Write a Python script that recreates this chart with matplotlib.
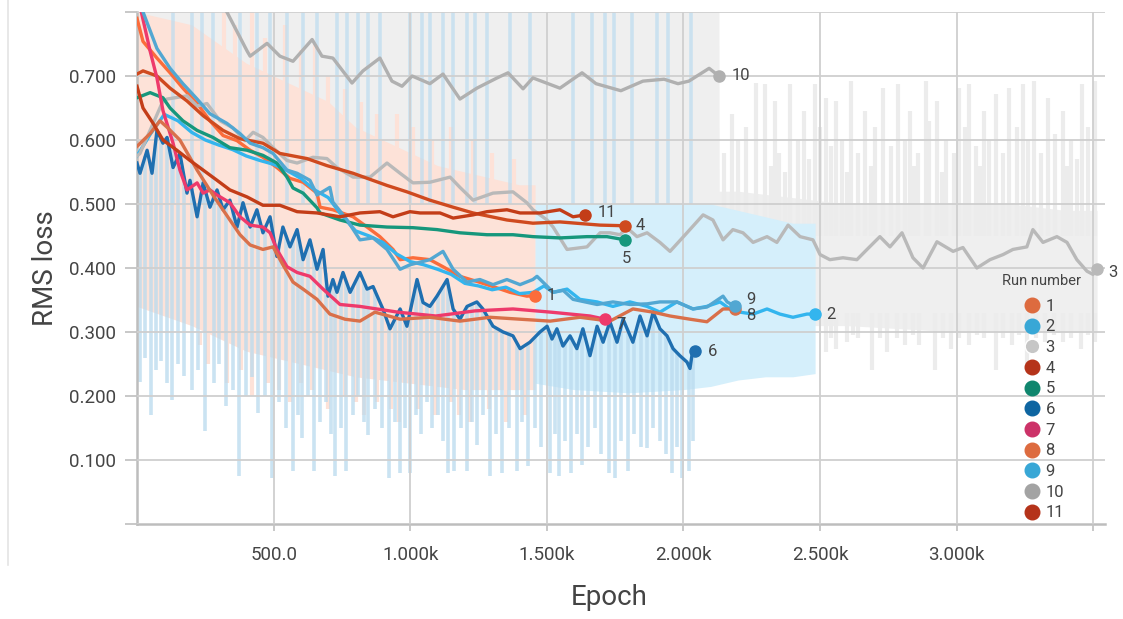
import numpy as np
import matplotlib
matplotlib.use("Agg")
import matplotlib.pyplot as plt
from matplotlib.lines import Line2D

plt.rcParams['font.family'] = ['Roboto', 'DejaVu Sans']

# smoothed runs: epoch / RMS loss
run1_e = [0, 22, 73, 121, 168, 220, 267, 315, 366, 414, 461, 512, 560, 608, 659, 670, 717, 791, 842, 889,
          937, 963, 1010, 1072, 1120, 1182, 1244, 1303, 1365, 1427, 1457]
run1_v = [0.79, 0.754, 0.728, 0.705, 0.681, 0.657, 0.630, 0.607, 0.599, 0.584, 0.573, 0.557, 0.540, 0.534,
          0.517, 0.495, 0.491, 0.480, 0.464, 0.449, 0.429, 0.413, 0.416, 0.413, 0.402, 0.387, 0.379, 0.371,
          0.362, 0.356, 0.357]

run2_e = [0, 50, 100, 150, 200, 250, 300, 350, 400, 450, 500, 550, 600, 650, 700, 750, 800, 850, 900, 950,
          1000, 1050, 1100, 1150, 1200, 1250, 1300, 1350, 1400, 1450, 1490, 1523, 1574, 1621, 1684, 1742,
          1804, 1867, 1914, 1976, 2035, 2086, 2134, 2170, 2207, 2255, 2306, 2353, 2401, 2452, 2482]
run2_v = [0.575, 0.61, 0.64, 0.63, 0.612, 0.60, 0.592, 0.585, 0.575, 0.568, 0.562, 0.552, 0.54, 0.522, 0.51,
          0.482, 0.458, 0.45, 0.44, 0.422, 0.41, 0.405, 0.398, 0.39, 0.376, 0.372, 0.366, 0.37, 0.36, 0.362,
          0.372, 0.362, 0.367, 0.351, 0.347, 0.340, 0.347, 0.340, 0.331, 0.347, 0.336, 0.340, 0.347, 0.336,
          0.331, 0.328, 0.336, 0.328, 0.323, 0.328, 0.328]

run3_e = [0, 11, 95, 110, 183, 220, 256, 304, 351, 395, 425, 461, 498, 549, 586, 644, 695, 732, 791, 853,
          915, 963, 1010, 1072, 1146, 1182, 1230, 1303, 1376, 1427, 1449, 1501, 1523, 1574, 1647, 1695, 1731,
          1768, 1793, 1830, 1867, 1914, 1951, 2013, 2072, 2108, 2145, 2181, 2218, 2255, 2306, 2342, 2383,
          2427, 2474, 2500, 2536, 2584, 2635, 2672, 2719, 2756, 2800, 2840, 2877, 2928, 2987, 3023, 3074,
          3122, 3170, 3206, 3257, 3279, 3316, 3367, 3404, 3440, 3477, 3499, 3514]
run3_v = [0.575, 0.579, 0.661, 0.664, 0.669, 0.653, 0.657, 0.630, 0.619, 0.599, 0.612, 0.604, 0.588, 0.568,
          0.564, 0.573, 0.571, 0.557, 0.542, 0.542, 0.564, 0.548, 0.533, 0.534, 0.542, 0.526, 0.506, 0.517,
          0.519, 0.502, 0.491, 0.475, 0.464, 0.429, 0.433, 0.455, 0.455, 0.452, 0.463, 0.449, 0.455, 0.440,
          0.426, 0.455, 0.483, 0.475, 0.444, 0.460, 0.455, 0.440, 0.449, 0.440, 0.467, 0.449, 0.444, 0.421,
          0.413, 0.416, 0.413, 0.429, 0.449, 0.433, 0.455, 0.416, 0.400, 0.441, 0.426, 0.432, 0.400, 0.413,
          0.421, 0.429, 0.433, 0.460, 0.440, 0.449, 0.440, 0.413, 0.395, 0.390, 0.398]

run4_e = [0, 22, 73, 121, 183, 242, 315, 377, 461, 523, 622, 695, 791, 915, 988, 1072, 1157, 1230, 1354,
          1449, 1548, 1695, 1786]
run4_v = [0.703, 0.708, 0.700, 0.681, 0.661, 0.638, 0.615, 0.602, 0.595, 0.579, 0.571, 0.560, 0.548, 0.529,
          0.519, 0.506, 0.495, 0.486, 0.475, 0.470, 0.472, 0.467, 0.466]

run5_e = [0, 48, 95, 121, 168, 220, 278, 340, 403, 461, 512, 549, 571, 608, 659, 670, 743, 816, 915, 1010,
          1098, 1182, 1281, 1376, 1449, 1548, 1647, 1720, 1786]
run5_v = [0.666, 0.674, 0.666, 0.650, 0.630, 0.615, 0.604, 0.588, 0.584, 0.576, 0.564, 0.542, 0.525, 0.517,
          0.494, 0.486, 0.475, 0.467, 0.464, 0.463, 0.460, 0.455, 0.452, 0.452, 0.449, 0.447, 0.449, 0.449,
          0.444]

run6_e = [0, 11, 37, 55, 73, 95, 110, 132, 157, 183, 194, 220, 242, 267, 293, 315, 340, 366, 388, 414, 439,
          461, 487, 512, 534, 560, 586, 608, 633, 659, 681, 699, 717, 732, 754, 780, 816, 842, 864, 900, 926,
          963, 988, 1025, 1047, 1072, 1098, 1135, 1157, 1182, 1208, 1244, 1266, 1303, 1340, 1376, 1402, 1438,
          1475, 1501, 1519, 1537, 1559, 1585, 1610, 1632, 1658, 1684, 1706, 1731, 1757, 1779, 1815, 1841,
          1867, 1889, 1914, 1940, 1962, 1987, 2013, 2024, 2031, 2042]
run6_v = [0.564, 0.548, 0.584, 0.548, 0.615, 0.595, 0.604, 0.557, 0.579, 0.517, 0.537, 0.480, 0.533, 0.495,
          0.522, 0.491, 0.506, 0.464, 0.502, 0.464, 0.491, 0.455, 0.480, 0.418, 0.464, 0.433, 0.460, 0.413,
          0.444, 0.398, 0.429, 0.356, 0.382, 0.362, 0.393, 0.362, 0.393, 0.367, 0.371, 0.336, 0.305, 0.336,
          0.309, 0.382, 0.346, 0.340, 0.356, 0.382, 0.336, 0.320, 0.340, 0.347, 0.336, 0.309, 0.300, 0.294,
          0.274, 0.284, 0.300, 0.309, 0.289, 0.305, 0.278, 0.294, 0.274, 0.305, 0.263, 0.309, 0.284, 0.316,
          0.284, 0.320, 0.284, 0.325, 0.294, 0.331, 0.305, 0.294, 0.274, 0.263, 0.253, 0.243, 0.263, 0.271]

run7_e = [0, 48, 73, 95, 132, 157, 183, 220, 242, 267, 293, 340, 377, 414, 461, 487, 512, 549, 586, 633, 681,
          743, 816, 955, 1094, 1237, 1376, 1515, 1658, 1713]
run7_v = [0.83, 0.739, 0.697, 0.646, 0.595, 0.553, 0.522, 0.533, 0.517, 0.522, 0.514, 0.502, 0.480, 0.467,
          0.464, 0.455, 0.429, 0.402, 0.393, 0.387, 0.367, 0.343, 0.340, 0.331, 0.325, 0.333, 0.336, 0.331,
          0.325, 0.320]

run8_e = [0, 48, 84, 110, 157, 220, 278, 340, 377, 414, 461, 498, 534, 571, 608, 659, 706, 761, 816, 871,
          963, 1072, 1182, 1292, 1402, 1512, 1621, 1731, 1815, 1889, 1951, 2024, 2086, 2145, 2189]
run8_v = [0.59, 0.61, 0.63, 0.62, 0.60, 0.553, 0.514, 0.475, 0.452, 0.436, 0.429, 0.433, 0.405, 0.378, 0.367,
          0.351, 0.328, 0.320, 0.317, 0.331, 0.320, 0.323, 0.317, 0.323, 0.320, 0.317, 0.323, 0.317, 0.336,
          0.331, 0.325, 0.320, 0.316, 0.336, 0.336]

run9_e = [0, 22, 73, 121, 168, 220, 267, 329, 377, 414, 461, 498, 549, 586, 633, 659, 706, 717, 769, 816,
          864, 915, 963, 999, 1072, 1120, 1157, 1208, 1255, 1303, 1354, 1402, 1449, 1464, 1500, 1523, 1560,
          1596, 1640, 1684, 1742, 1804, 1867, 1914, 1976, 2035, 2086, 2145, 2160, 2189]
run9_v = [0.83, 0.80, 0.743, 0.712, 0.688, 0.664, 0.641, 0.626, 0.610, 0.595, 0.588, 0.579, 0.553, 0.548,
          0.537, 0.514, 0.526, 0.503, 0.475, 0.444, 0.447, 0.429, 0.398, 0.405, 0.413, 0.426, 0.398, 0.378,
          0.382, 0.374, 0.382, 0.374, 0.382, 0.387, 0.372, 0.362, 0.365, 0.351, 0.347, 0.343, 0.347, 0.343,
          0.344, 0.347, 0.347, 0.336, 0.339, 0.356, 0.347, 0.340]

run10_e = [250, 329, 403, 414, 476, 523, 571, 641, 677, 717, 787, 827, 889, 933, 970, 1007, 1072, 1120, 1182,
           1244, 1318, 1358, 1413, 1449, 1548, 1629, 1680, 1771, 1852, 1929, 1980, 2020, 2094, 2130]
run10_v = [0.86, 0.80, 0.739, 0.731, 0.751, 0.731, 0.723, 0.757, 0.731, 0.728, 0.689, 0.708, 0.728, 0.692,
           0.684, 0.700, 0.688, 0.703, 0.664, 0.681, 0.697, 0.705, 0.680, 0.697, 0.681, 0.705, 0.688, 0.677,
           0.692, 0.695, 0.688, 0.692, 0.712, 0.700]

run11_e = [0, 22, 59, 95, 146, 194, 242, 293, 340, 403, 461, 523, 586, 659, 743, 816, 889, 937, 999, 1036,
           1109, 1157, 1230, 1281, 1354, 1402, 1475, 1548, 1596, 1640]
run11_v = [0.684, 0.650, 0.626, 0.600, 0.584, 0.568, 0.553, 0.537, 0.522, 0.511, 0.498, 0.498, 0.488, 0.486,
           0.480, 0.486, 0.488, 0.480, 0.488, 0.486, 0.486, 0.478, 0.483, 0.488, 0.491, 0.486, 0.486, 0.491,
           0.480, 0.483]

# raw (unsmoothed) envelopes and spikes
gray_e = [0, 500, 1000, 1500, 2000, 2130, 2131, 2200, 2400, 2600, 2800, 3000, 3200, 3400, 3514]
gray_lo = [0.45, 0.45, 0.42, 0.36, 0.32, 0.31, 0.31, 0.31, 0.31, 0.31, 0.305, 0.30, 0.30, 0.30, 0.30]
gray_hi = [0.80, 0.80, 0.80, 0.80, 0.80, 0.80, 0.52, 0.52, 0.51, 0.50, 0.50, 0.50, 0.50, 0.49, 0.49]
gray_top_e = [2150, 2178, 2200, 2230, 2266, 2298, 2320, 2335, 2350, 2370, 2390, 2420, 2441, 2460, 2481,
              2500, 2522, 2540, 2558, 2580, 2597, 2613, 2640, 2664, 2685, 2700, 2730, 2760, 2785, 2810,
              2829, 2845, 2860, 2888, 2900, 2928, 2945, 2960, 2990, 3009, 3030, 3045, 3070, 3085, 3100,
              3120, 3144, 3170, 3192, 3220, 3243, 3260, 3283, 3310, 3334, 3360, 3389, 3405, 3420, 3440,
              3459, 3480, 3506]
gray_top_v = [0.58, 0.641, 0.60, 0.62, 0.689, 0.688, 0.56, 0.661, 0.58, 0.55, 0.688, 0.60, 0.646, 0.57,
              0.688, 0.62, 0.666, 0.59, 0.661, 0.60, 0.55, 0.692, 0.58, 0.646, 0.56, 0.62, 0.681, 0.59,
              0.688, 0.60, 0.646, 0.56, 0.58, 0.692, 0.63, 0.661, 0.55, 0.60, 0.58, 0.681, 0.62, 0.688,
              0.59, 0.56, 0.646, 0.60, 0.672, 0.58, 0.681, 0.62, 0.688, 0.60, 0.692, 0.58, 0.666, 0.61,
              0.646, 0.56, 0.60, 0.57, 0.688, 0.62, 0.692]
gray_bot_e = [2522, 2540, 2558, 2599, 2620, 2640, 2690, 2720, 2745, 2780, 2811, 2840, 2862, 2921, 2950,
              2979, 3010, 3045, 3075, 3100, 3144, 3170, 3202, 3230, 3257, 3290, 3323, 3355, 3389, 3420,
              3455, 3480, 3506]
gray_bot_v = [0.269, 0.29, 0.274, 0.285, 0.295, 0.29, 0.240, 0.29, 0.269, 0.29, 0.279, 0.295, 0.279, 0.240,
              0.29, 0.274, 0.29, 0.279, 0.295, 0.29, 0.240, 0.29, 0.279, 0.295, 0.247, 0.29, 0.285, 0.295,
              0.285, 0.29, 0.274, 0.295, 0.285]

peach_e = [0, 200, 300, 400, 500, 600, 700, 800, 900, 1000, 1100, 1200, 1300, 1400, 1457]
peach_lo = [0.34, 0.31, 0.29, 0.27, 0.26, 0.25, 0.24, 0.23, 0.225, 0.22, 0.215, 0.21, 0.21, 0.21, 0.21]
peach_hi = [0.80, 0.78, 0.75, 0.72, 0.70, 0.68, 0.66, 0.62, 0.60, 0.58, 0.56, 0.55, 0.54, 0.53, 0.53]
peach_up_e = [320, 360, 420, 470, 540, 600, 650, 700, 760, 820, 880, 950, 1010, 1080, 1150, 1230, 1300, 1380]
peach_up_v = [0.80, 0.78, 0.80, 0.76, 0.78, 0.74, 0.75, 0.70, 0.68, 0.66, 0.64, 0.64, 0.62, 0.60, 0.62,
              0.60, 0.58, 0.57]
peach_dn_e = [230, 260, 330, 380, 420, 480, 520, 560, 600, 640, 700, 760, 800, 830, 880, 930, 960, 1030,
              1090, 1150, 1180, 1220, 1290, 1350, 1420]
peach_dn_v = [0.28, 0.25, 0.22, 0.24, 0.20, 0.22, 0.21, 0.19, 0.22, 0.21, 0.18, 0.20, 0.19, 0.17, 0.19,
              0.18, 0.16, 0.18, 0.17, 0.19, 0.17, 0.16, 0.18, 0.16, 0.17]
peach8_e = [1457, 1700, 1900, 2196]
peach8_lo = [0.24, 0.24, 0.235, 0.24]
peach8_hi = [0.40, 0.39, 0.38, 0.38]

sky_e = [1457, 1600, 1800, 2000, 2100, 2200, 2300, 2400, 2482]
sky_lo = [0.22, 0.21, 0.205, 0.21, 0.215, 0.225, 0.23, 0.23, 0.235]
sky_hi = [0.50, 0.50, 0.50, 0.50, 0.50, 0.49, 0.48, 0.47, 0.47]

blue_dn_e = [11, 30, 51, 70, 88, 110, 128, 150, 172, 200, 225, 249, 280, 300, 326, 350, 373, 400, 420, 443,
             470, 494, 520, 545, 571, 590, 604, 625, 648, 670, 690, 710, 725, 745, 765, 790, 810, 830, 845,
             870, 895, 922, 945, 963, 980, 999, 1020, 1040, 1060, 1080, 1100, 1120, 1138, 1160, 1185, 1208,
             1225, 1244, 1265, 1292, 1315, 1336, 1360, 1391, 1410, 1431, 1455, 1480, 1512, 1530, 1545, 1565,
             1588, 1610, 1629, 1650, 1675, 1700, 1728, 1749, 1770, 1797, 1820, 1845, 1867, 1890, 1915, 1935,
             1958, 1975, 1995, 2020, 2035]
blue_dn_v = [0.222, 0.26, 0.170, 0.24, 0.255, 0.22, 0.193, 0.25, 0.232, 0.21, 0.24, 0.145, 0.22, 0.25, 0.184,
             0.21, 0.075, 0.20, 0.23, 0.173, 0.20, 0.072, 0.19, 0.15, 0.083, 0.17, 0.134, 0.20, 0.083, 0.16,
             0.19, 0.14, 0.075, 0.15, 0.083, 0.17, 0.20, 0.16, 0.139, 0.18, 0.15, 0.072, 0.16, 0.08, 0.15,
             0.08, 0.17, 0.14, 0.19, 0.15, 0.17, 0.13, 0.08, 0.083, 0.15, 0.083, 0.16, 0.123, 0.17, 0.075,
             0.14, 0.08, 0.15, 0.083, 0.16, 0.091, 0.15, 0.12, 0.08, 0.14, 0.075, 0.13, 0.08, 0.14, 0.092,
             0.12, 0.15, 0.11, 0.08, 0.072, 0.13, 0.083, 0.14, 0.12, 0.119, 0.15, 0.13, 0.11, 0.08, 0.12,
             0.072, 0.083, 0.13]
blue_up_e = [132, 201, 238, 278, 377, 439, 487, 549, 608, 659, 732, 769, 809, 846, 889, 999, 1043, 1072,
             1120, 1157, 1208, 1237, 1281, 1365, 1438, 1596, 1665, 1713, 1746, 1812, 1903, 1943, 2028]

runs = ['1', '2', '3', '4', '5', '6', '7', '8', '9', '10', '11']
line_colors = ['#fb6c3b', '#33b5ee', '#b9b9b9', '#cf4a1f', '#16977c', '#1f6fb0',
               '#ee3a6b', '#d9704a', '#52a7d2', '#b0b0b0', '#c33d18']
legend_colors = ['#dd6b3f', '#38a7d6', '#c6c6c6', '#b5331a', '#10866e', '#0e65a1',
                 '#cc3268', '#dd6b3f', '#38a7d6', '#a3a3a3', '#b5331a']
label_offsets = [(8, 0), (8, 0), (8, -2), (8, 0), (1, -8), (9, -1), (8, -4), (8, -5), (8, 5), (9, 0), (9, 2)]

series = [(run1_e, run1_v), (run2_e, run2_v), (run3_e, run3_v), (run4_e, run4_v), (run5_e, run5_v),
          (run6_e, run6_v), (run7_e, run7_v), (run8_e, run8_v), (run9_e, run9_v), (run10_e, run10_v),
          (run11_e, run11_v)]

fig = plt.figure(figsize=(11.23, 6.19), dpi=100)
ax = fig.add_axes([137 / 1123, 95 / 619, 968 / 1123, 512 / 619])

# raw data shading
ax.fill_between(gray_e, gray_lo, gray_hi, color='#efefef', lw=0, zorder=1)
ax.vlines(gray_top_e, 0.45, gray_top_v, color='#ececec', lw=3, zorder=1)
ax.vlines(gray_bot_e, gray_bot_v, 0.33, color='#ececec', lw=3, zorder=1)
ax.fill_between(peach_e, peach_lo, peach_hi, color='#fde2d8', lw=0, zorder=1.2)
ax.vlines(peach_up_e, 0.5, peach_up_v, color='#fde2d8', lw=3, zorder=1.2)
ax.vlines(peach_dn_e, peach_dn_v, 0.3, color='#fde2d8', lw=3, zorder=1.2)
ax.fill_between(peach8_e, peach8_lo, peach8_hi, color='#fde2d8', lw=0, zorder=1.2)
ax.fill_between(sky_e, sky_lo, sky_hi, color='#d5effb', lw=0, zorder=1.4)
base = np.interp(blue_dn_e, run6_e, run6_v)
ax.vlines(blue_dn_e, blue_dn_v, base, color='#b9daee', alpha=0.75, lw=2.6, zorder=1.6)
ax.vlines(blue_up_e, 0.5, 0.8, color='#bcdcef', alpha=0.7, lw=2.6, zorder=1.6)

# smoothed lines with end dots
for i, (e, v) in enumerate(series):
    ax.plot(e, v, color=line_colors[i], lw=2.4, zorder=3 + i * 0.01, solid_joinstyle='round')
    ax.plot(e[-1], v[-1], 'o', color=line_colors[i], ms=8, zorder=4)
    dx, dy = label_offsets[i]
    ha = 'center' if abs(dx) < 3 else 'left'
    va = 'top' if dy < -6 else 'center'
    ax.annotate(runs[i], (e[-1], v[-1]), xytext=(dx, dy), textcoords='offset points',
                ha=ha, va=va, fontsize=12, color='#444444', zorder=5)

ax.set_xlim(0, 3543)
ax.set_ylim(0, 0.8)
ax.set_xticks([500, 1000, 1500, 2000, 2500, 3000, 3500])
ax.set_xticklabels(['500.0', '1.000k', '1.500k', '2.000k', '2.500k', '3.000k', ''])
ax.set_yticks([0, 0.1, 0.2, 0.3, 0.4, 0.5, 0.6, 0.7, 0.8])
ax.set_yticklabels(['', '0.100', '0.200', '0.300', '0.400', '0.500', '0.600', '0.700', ''])
ax.tick_params(axis='y', length=9, width=1.3, color='#c4c4c4', pad=6, labelsize=13.5, labelcolor='#444444')
ax.tick_params(axis='x', length=5, width=1.3, color='#c4c4c4', pad=11, labelsize=13.5, labelcolor='#444444')
ax.set_axisbelow(False)
ax.grid(True, color='#cfcfcf', lw=1.3)
for s in ['top', 'right']:
    ax.spines[s].set_visible(False)
for s in ['left', 'bottom']:
    ax.spines[s].set_color('#bdbdbd')
    ax.spines[s].set_linewidth(1.8)

ax.set_ylabel('RMS loss', fontsize=20, color='#444444')
ax.yaxis.set_label_coords(-0.095, 0.5)
ax.yaxis.label.set_va('center')
ax.set_xlabel('Epoch', fontsize=20, color='#444444')
ax.xaxis.set_label_coords(0.4876, -0.144)
ax.xaxis.label.set_va('center')

# legend
ax.text(0.934, 0.4746, 'Run number', transform=ax.transAxes, ha='center', va='center',
        fontsize=10.5, color='#444444', zorder=6)
handles = [Line2D([], [], ls='', marker='o', ms=10.5, color=c,
                  markeredgecolor=('white' if r == '3' else c)) for c, r in zip(legend_colors, runs)]
leg = ax.legend(handles, runs, loc='upper left', bbox_to_anchor=(0.918, 0.44),
                frameon=False, fontsize=12, handlelength=0.8, handletextpad=0.4,
                labelspacing=0.34, borderpad=0, borderaxespad=0)
for t in leg.get_texts():
    t.set_color('#444444')
leg.set_zorder(6)

fig.add_artist(Line2D([8 / 1123, 8 / 1123], [54 / 619, 1], color='#e4e4e4', lw=1.2))

fig.savefig('out.png', dpi=100)
